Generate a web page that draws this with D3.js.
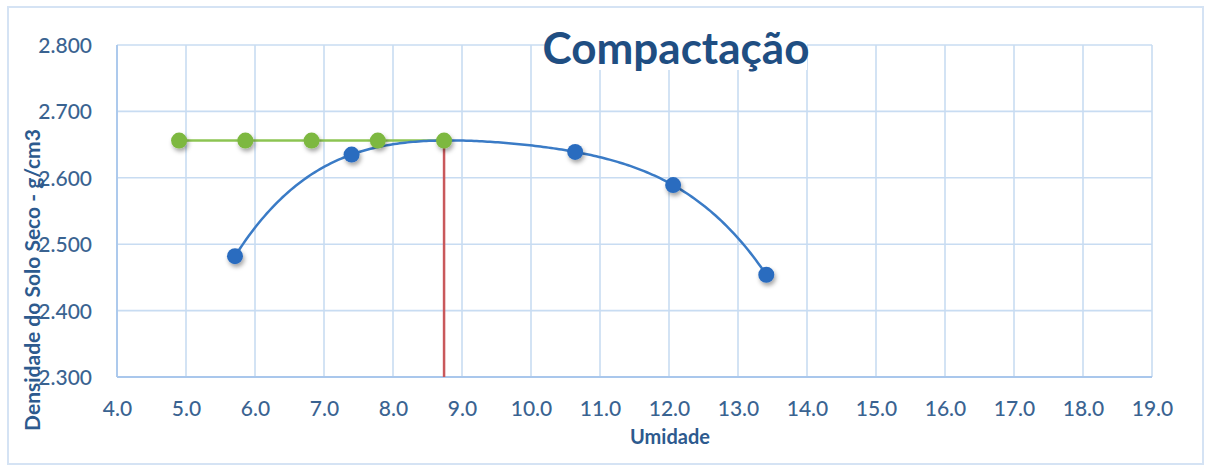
<!DOCTYPE html>
<html>
<head>
<meta charset="utf-8">
<script src="https://cdn.jsdelivr.net/npm/d3@7"></script>
<style>
  html, body { margin: 0; padding: 0; background: #fff; }
  svg { display: block; }
</style>
</head>
<body>
<svg id="chart" width="1210" height="468"></svg>
<script>
// Ensaio de compactação: umidade (%) x densidade do solo seco (g/cm3)
const umidade = [5.71, 7.40, 10.64, 12.06, 13.41];
const densidade = [2.482, 2.635, 2.639, 2.589, 2.454];

// Umidade ótima e densidade máxima
const umidadeOtima = 8.74;
const densidadeMax = 2.656;

// Pontos da linha horizontal da densidade máxima
const umidadeRef = [4.90, 5.86, 6.82, 7.78, 8.74];

const xTicks = [4, 5, 6, 7, 8, 9, 10, 11, 12, 13, 14, 15, 16, 17, 18, 19];
const yTicks = [2.3, 2.4, 2.5, 2.6, 2.7, 2.8];

const titulo = "Compactação";
const tituloX = "Umidade";
const tituloY = "Densidade do Solo Seco - g/cm3";

// Grau da linha de tendência polinomial
const grauTendencia = 4;

const svg = d3.select("#chart");
const m = { left: 117, right: 1152, top: 45, bottom: 377 };

const x = d3.scaleLinear().domain([4, 19]).range([m.left, m.right]);
const y = d3.scaleLinear().domain([2.3, 2.8]).range([m.bottom, m.top]);

const labelColor = "#3a6391";
const gridColor = "#c8dcf2";
const font = "Lato, 'Open Sans', sans-serif";

// Least-squares polynomial fit (normal equations, Gaussian elimination)
function polyFit(xs, ys, deg) {
  const x0 = d3.mean(xs);
  const n = deg + 1;
  const A = Array.from({ length: n }, () => new Array(n + 1).fill(0));
  xs.forEach((xv, k) => {
    const t = xv - x0;
    for (let i = 0; i < n; i++) {
      for (let j = 0; j < n; j++) A[i][j] += Math.pow(t, i + j);
      A[i][n] += ys[k] * Math.pow(t, i);
    }
  });
  for (let c = 0; c < n; c++) {
    let p = c;
    for (let r = c + 1; r < n; r++) if (Math.abs(A[r][c]) > Math.abs(A[p][c])) p = r;
    [A[c], A[p]] = [A[p], A[c]];
    for (let r = 0; r < n; r++) {
      if (r === c) continue;
      const f = A[r][c] / A[c][c];
      for (let j = c; j <= n; j++) A[r][j] -= f * A[c][j];
    }
  }
  const coef = A.map((row, i) => row[n] / row[i]);
  return xv => coef.reduce((s, a, i) => s + a * Math.pow(xv - x0, i), 0);
}

// marker shadow
const defs = svg.append("defs");
const f = defs.append("filter").attr("id", "sombra")
  .attr("x", "-50%").attr("y", "-50%").attr("width", "200%").attr("height", "200%");
f.append("feDropShadow").attr("dx", 1.5).attr("dy", 3).attr("stdDeviation", 2)
  .attr("flood-color", "#000").attr("flood-opacity", 0.35);

// outer frame
svg.append("rect").attr("x", 8).attr("y", 7).attr("width", 1195).attr("height", 457)
  .attr("fill", "#fff").attr("stroke", "#d5e3f4").attr("stroke-width", 2);

// gridlines
const grid = svg.append("g");
grid.selectAll("line.v").data(xTicks).join("line")
  .attr("x1", d => x(d)).attr("x2", d => x(d))
  .attr("y1", m.top).attr("y2", m.bottom)
  .attr("stroke", gridColor).attr("stroke-width", 1.6);
grid.selectAll("line.h").data(yTicks).join("line")
  .attr("x1", m.left).attr("x2", m.right)
  .attr("y1", d => y(d)).attr("y2", d => y(d))
  .attr("stroke", gridColor).attr("stroke-width", 1.6);

// axis lines
svg.append("line").attr("x1", m.left).attr("x2", m.left).attr("y1", m.top).attr("y2", m.bottom)
  .attr("stroke", "#a9c7ec").attr("stroke-width", 1.8);
svg.append("line").attr("x1", m.left).attr("x2", m.right).attr("y1", m.bottom).attr("y2", m.bottom)
  .attr("stroke", "#a9c7ec").attr("stroke-width", 1.8);

// axes (tick labels only)
const xAxis = svg.append("g").attr("transform", `translate(0,${m.bottom})`)
  .call(d3.axisBottom(x).tickValues(xTicks).tickFormat(d3.format(".1f")).tickSize(0).tickPadding(24));
const yAxis = svg.append("g").attr("transform", `translate(${m.left},0)`)
  .call(d3.axisLeft(y).tickValues(yTicks).tickFormat(d3.format(".3f")).tickSize(0).tickPadding(25));
[xAxis, yAxis].forEach(a => {
  a.select(".domain").remove();
  a.selectAll("text").attr("fill", labelColor).attr("font-family", font)
    .attr("font-size", 21).attr("font-weight", 500);
});
yAxis.selectAll("text").attr("dy", "0.36em");
xAxis.selectAll("text").attr("dy", "0.72em");

// title with white backing
const tg = svg.append("g");
tg.append("rect").attr("x", 545).attr("y", 20).attr("width", 262).attr("height", 50).attr("fill", "#fff");
tg.append("text").attr("x", 676).attr("y", 64).attr("text-anchor", "middle")
  .attr("font-family", font).attr("font-weight", 700).attr("font-size", 44)
  .attr("fill", "#1f4e82").text(titulo);

// axis titles
svg.append("text").attr("x", 670).attr("y", 444).attr("text-anchor", "middle")
  .attr("font-family", font).attr("font-weight", 700).attr("font-size", 20)
  .attr("fill", "#2d5a8e").text(tituloX);
svg.append("text").attr("transform", "translate(40,280) rotate(-90)").attr("text-anchor", "middle")
  .attr("font-family", font).attr("font-weight", 700).attr("font-size", 21)
  .attr("fill", "#2d5a8e").text(tituloY);

// max density reference line (green)
svg.append("path")
  .attr("d", d3.line().x(d => x(d)).y(() => y(densidadeMax))(umidadeRef))
  .attr("fill", "none").attr("stroke", "#8cc452").attr("stroke-width", 2.5);

// optimum moisture line (red)
svg.append("line")
  .attr("x1", x(umidadeOtima)).attr("x2", x(umidadeOtima))
  .attr("y1", y(densidadeMax)).attr("y2", y(2.3))
  .attr("stroke", "#c9585b").attr("stroke-width", 2.5);

// polynomial trendline over the measured range
const tendencia = polyFit(umidade, densidade, grauTendencia);
const [uMin, uMax] = d3.extent(umidade);
const amostras = d3.range(0, 201).map(i => uMin + (uMax - uMin) * i / 200);
svg.append("path")
  .attr("d", d3.line().x(d => x(d)).y(d => y(tendencia(d)))(amostras))
  .attr("fill", "none").attr("stroke", "#3a7bc6").attr("stroke-width", 2.5);

// markers
svg.append("g").selectAll("circle").data(umidadeRef).join("circle")
  .attr("cx", d => x(d)).attr("cy", y(densidadeMax)).attr("r", 8)
  .attr("fill", "#7db83f").attr("filter", "url(#sombra)");
svg.append("g").selectAll("circle").data(umidade).join("circle")
  .attr("cx", d => x(d)).attr("cy", (d, i) => y(densidade[i])).attr("r", 8)
  .attr("fill", "#2a6cbf").attr("filter", "url(#sombra)");
</script>
</body>
</html>
